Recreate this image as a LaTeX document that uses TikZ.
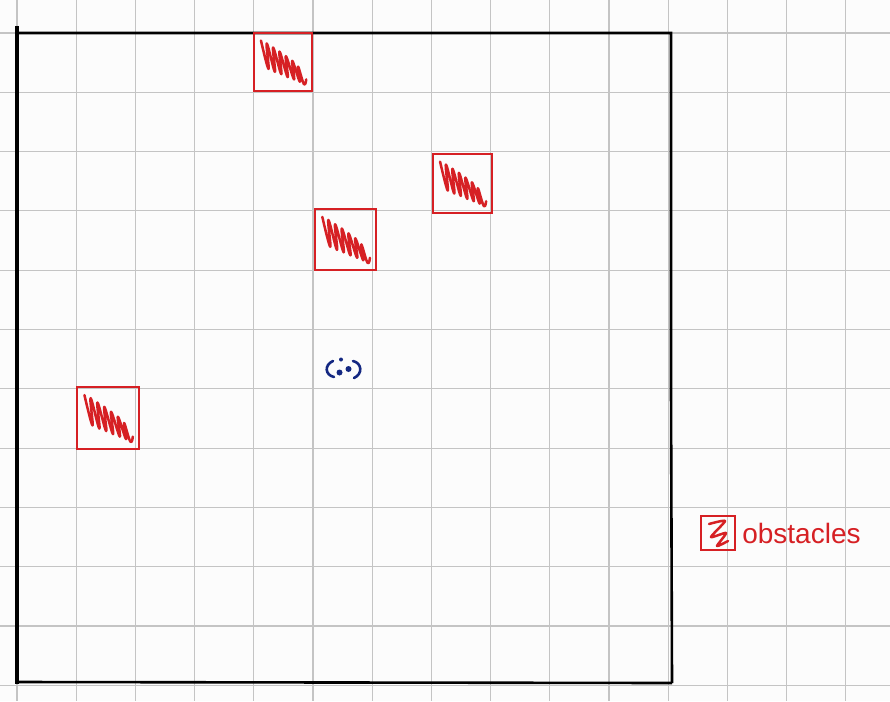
\documentclass[tikz,border=0pt]{standalone}
\usepackage{fontspec}
\setmainfont{Liberation Sans}
\definecolor{paper}{RGB}{252,252,252}
\definecolor{gridc}{RGB}{196,196,196}
\definecolor{obsred}{RGB}{214,32,36}
\definecolor{facec}{RGB}{20,40,130}
\tikzset{
  gridline/.style={draw=gridc, line width=1.1pt},
  frame/.style={draw=black, line width=2.6pt},
  obsbox/.style={draw=obsred, line width=2.2pt},
  scribble/.style={draw=obsred, line width=2.5pt, line cap=round, line join=round},
}
\newcommand\obstacle[3]{%
  \begin{scope}[shift={(#1,#2)}, xscale=#3, yscale=#3]
    \draw[obsbox] (0,0) rectangle (1,1);
    \draw[scribble] plot[smooth, tension=0.75] coordinates {
      (0.12,0.13) (0.25,0.62) (0.22,0.18) (0.36,0.67) (0.33,0.25) (0.47,0.71)
      (0.44,0.32) (0.58,0.76) (0.55,0.40) (0.69,0.80) (0.66,0.48) (0.79,0.84)
      (0.76,0.58) (0.86,0.88) (0.90,0.80)};
  \end{scope}}
\begin{document}
\begin{tikzpicture}[x=1pt,y=-1pt]
  \fill[paper] (0,0) rectangle (890,701);
  \useasboundingbox (0,0) rectangle (890,701);
  % grid
  \foreach \k in {0,...,14} \draw[gridline] ({17+59.2*\k},0) -- ({17+59.2*\k},701);
  \foreach \k in {0,...,11} \draw[gridline] (0,{33+59.3*\k}) -- (890,{33+59.3*\k});
  % frame
  \coordinate (tl) at (17,33);
  \coordinate (tr) at (671,33);
  \coordinate (br) at (672,683);
  \coordinate (bl) at (17,682);
  \draw[frame] (tl) -- (tr) -- (671,390) -- (br);
  \draw[frame] (bl) -- (br);
  \draw[draw=black, line width=3.6pt] (17,26) -- (17,684);
  % obstacles
  \obstacle{254}{33}{58}
  \obstacle{433}{154}{59}
  \obstacle{315}{209}{61}
  \obstacle{77}{387}{62}
  % agent face
  \begin{scope}[facec, line width=2.6pt, line cap=round]
    \draw (333,361) .. controls (324,365) and (325,375) .. (334,377);
    \draw (353,361) .. controls (362,363) and (363,374) .. (354,378);
    \fill (339.5,372.5) circle (3);
    \fill (348.5,369) circle (3);
    \fill (341,359.5) circle (2);
  \end{scope}
  % legend
  \node[obsbox, minimum width=34pt, minimum height=34pt, inner sep=0pt] (legbox) at (718,533) {};
  \draw[scribble] plot[smooth, tension=0.4] coordinates {
    (709,524) (725,521) (711,537) (726,533) (717,546) (728,541)};
  \node[text=obsred, anchor=west, inner sep=0pt, font=\fontsize{28}{30}\selectfont] (legtext) at ([xshift=6pt]legbox.east) {obstacles};
\end{tikzpicture}
\end{document}
